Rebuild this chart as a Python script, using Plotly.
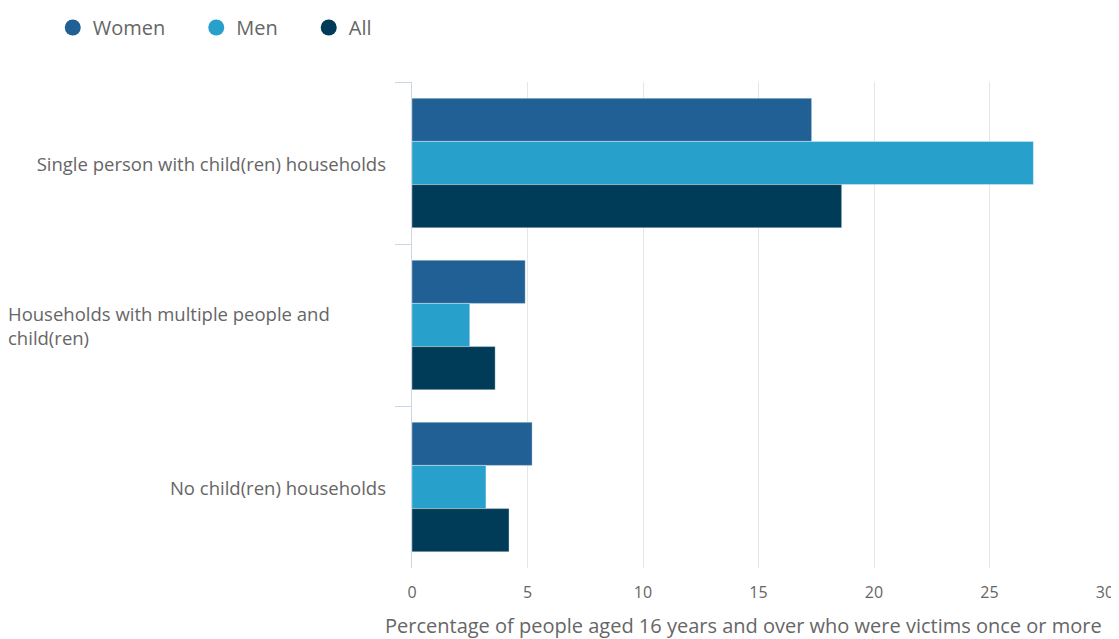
import plotly.graph_objects as go

categories = [
    "Single person with child(ren) households",
    "Households with multiple people and<br>child(ren)",
    "No child(ren) households",
]
women = [17.3, 4.9, 5.2]
men = [26.9, 2.5, 3.2]
all_people = [18.6, 3.6, 4.2]

series = [
    ("Women", women, "#206095"),
    ("Men", men, "#27a0cc"),
    ("All", all_people, "#003c57"),
]

x_title = "Percentage of people aged 16 years and over who were victims once or more"

FONT = "Open Sans"
GREY = "#666666"
PAD = "\u00a0" * 5  # extra room between legend entries

fig = go.Figure()

for name, vals, color in series:
    fig.add_trace(go.Bar(
        x=vals,
        y=categories,
        orientation="h",
        name=name,
        marker=dict(color=color, line=dict(width=1, color="rgba(255,255,255,0.35)")),
        showlegend=False,
        legendgroup=name,
        hovertemplate=name + ": %{x}<extra></extra>",
    ))

# circle markers for the legend
for name, vals, color in series:
    fig.add_trace(go.Scatter(
        x=[None], y=[None],
        mode="markers",
        name=name + PAD,
        legendgroup=name,
        marker=dict(symbol="circle", size=18, color=color),
    ))

# category labels as annotations so the wrapped one stays left aligned
for cat in categories:
    wrapped = "<br>" in cat
    fig.add_annotation(
        x=0, xref="paper", xshift=-24,
        y=cat, yref="y",
        text=cat,
        showarrow=False,
        xanchor="right",
        width=378,
        align="left" if wrapped else "right",
        font=dict(family=FONT, size=18.5, color=GREY),
    )

# x axis title, placed a bit left of centre so it stays inside the page
fig.add_annotation(
    x=0.479, xref="paper",
    y=0, yref="paper", yshift=-57,
    text=x_title,
    showarrow=False,
    xanchor="center", yanchor="middle",
    font=dict(family=FONT, size=20, color=GREY),
)

# the page adds an 8px body margin, margins below allow for it
fig.update_layout(
    width=1119,
    height=639,
    barmode="group",
    bargap=0.2,
    bargroupgap=0,
    plot_bgcolor="white",
    paper_bgcolor="white",
    margin=dict(l=404, r=22, t=74, b=79, autoexpand=False),
    font=dict(family=FONT, size=16, color=GREY),
    legend=dict(
        orientation="h",
        x=0.04, xref="container", xanchor="left",
        y=1.0, yref="container", yanchor="top",
        font=dict(family=FONT, size=20, color=GREY),
        itemsizing="trace",
    ),
    xaxis=dict(
        range=[0, 30],
        tickvals=[0, 5, 10, 15, 20, 25, 30],
        showgrid=True,
        gridcolor="#e6e6e6",
        gridwidth=1,
        zeroline=False,
        showline=False,
        ticklabelstandoff=13,
        tickfont=dict(family=FONT, size=16, color=GREY),
        fixedrange=True,
    ),
    yaxis=dict(
        autorange="reversed",
        showticklabels=False,
        showline=True,
        linecolor="#ccd6eb",
        linewidth=1,
        ticks="outside",
        tickson="boundaries",
        ticklen=16,
        tickcolor="#ccd6eb",
        showgrid=False,
        fixedrange=True,
    ),
)

fig.write_html("out.html")
